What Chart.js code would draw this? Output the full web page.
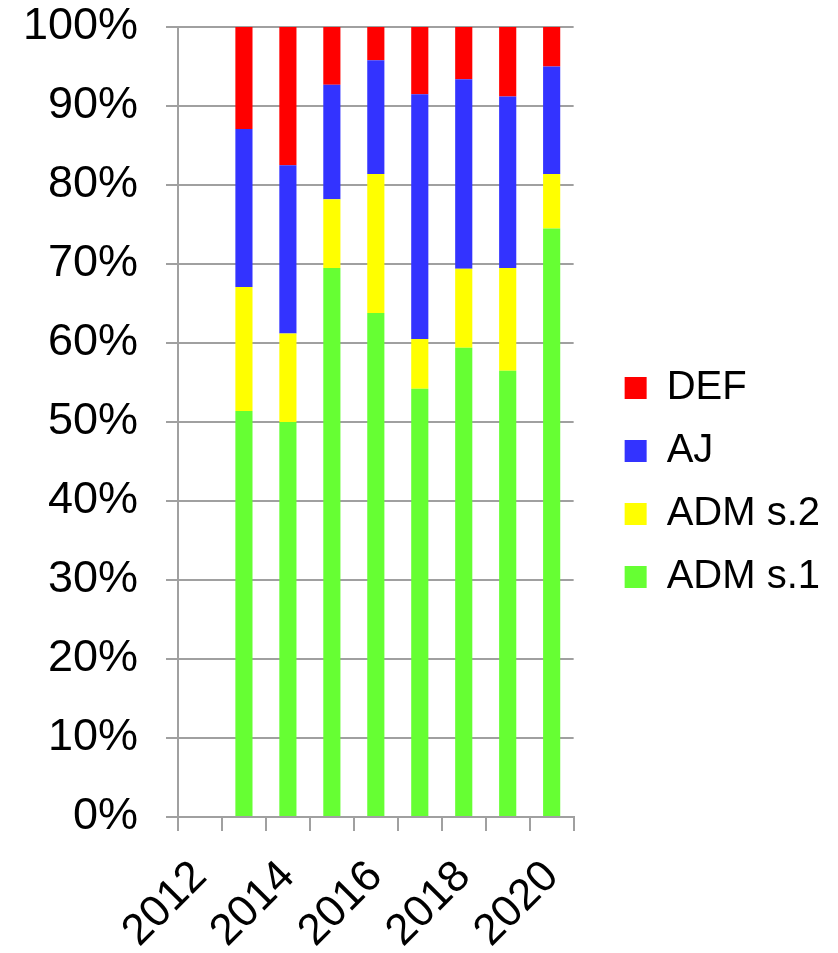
<!DOCTYPE html>
<html>
<head>
<meta charset="utf-8">
<script src="https://cdn.jsdelivr.net/npm/chart.js@4.4.1/dist/chart.umd.min.js"></script>
<style>
  html, body { margin: 0; padding: 0; background: #fff; }
  canvas { display: block; }
</style>
</head>
<body>
<canvas id="chart-shares" width="838" height="953"></canvas>
<script>
// categories (2012 has no bar)
const years = ['2012', '2013', '2014', '2015', '2016', '2017', '2018', '2019', '2020'];

// shares in percent
const admS1 = [null, 51.4, 50.0, 69.5, 63.8, 54.2, 59.4, 56.5, 74.5];
const admS2 = [null, 15.7, 11.2, 8.7, 17.6, 6.3, 10.0, 13.0, 6.9];
const aj    = [null, 20.0, 21.3, 14.5, 14.4, 31.0, 24.0, 21.7, 13.6];
const def   = [null, 12.9, 17.5, 7.3, 4.2, 8.5, 6.6, 8.8, 5.0];

// only every other year gets a label
const shownYears = ['2012', '2014', '2016', '2018', '2020'];
const yTicks = [0, 10, 20, 30, 40, 50, 60, 70, 80, 90, 100];

const font = '"Liberation Sans", Arial, sans-serif';
const gridColor = '#a0a0a0';

function series(label, data, color) {
	return {
		label: label,
		data: data,
		backgroundColor: color,
		borderWidth: 0,
		barPercentage: 0.39,
		categoryPercentage: 1.0
	};
}

let ctx = document.getElementById('chart-shares');
let chart = new Chart(ctx, {
	type: 'bar',
	data: {
		labels: years,
		datasets: [
			series('ADM s.1', admS1, '#66ff33'),
			series('ADM s.2', admS2, '#ffff00'),
			series('AJ', aj, '#3333ff'),
			series('DEF', def, '#ff0000')
		]
	},
	options: {
		responsive: false,
		animation: false,
		layout: { padding: { top: 12, right: 8, bottom: 0, left: 0 } },
		plugins: {
			tooltip: { enabled: false },
			legend: {
				position: 'right',
				reverse: true,
				maxWidth: 300,
				labels: {
					boxWidth: 22,
					boxHeight: 22,
					padding: 23,
					color: '#000',
					font: { family: font, size: 40 }
				}
			}
		},
		scales: {
			x: {
				stacked: true,
				grid: {
					offset: true,
					drawOnChartArea: false,
					drawTicks: true,
					tickLength: 14,
					color: gridColor,
					lineWidth: 2
				},
				border: { color: gridColor, width: 2 },
				ticks: {
					autoSkip: false,
					minRotation: 45,
					maxRotation: 45,
					padding: 20,
					color: '#000',
					font: { family: font, size: 44 },
					callback: function(value, index) {
						let year = years[index];
						return shownYears.includes(year) ? year : '';
					}
				},
				afterFit: function(scale) {
					scale.height = 136;
					scale.paddingLeft = 0;
					scale.paddingRight = 0;
				}
			},
			y: {
				stacked: true,
				min: 0,
				max: 100,
				grid: {
					color: gridColor,
					lineWidth: 2,
					tickLength: 12
				},
				border: { color: gridColor, width: 2 },
				afterBuildTicks: function(scale) {
					scale.ticks = yTicks.map(v => ({ value: v }));
				},
				ticks: {
					padding: 28,
					color: '#000',
					font: { family: font, size: 45 },
					callback: function(value) { return value + '%'; }
				},
				afterFit: function(scale) {
					scale.width = 178;
					scale.paddingTop = 27;
					scale.paddingBottom = 0;
				}
			},
			// empty spacer between plot and legend
			gap: {
				type: 'linear',
				position: 'right',
				display: true,
				grid: { display: false },
				border: { display: false },
				ticks: { display: false },
				afterFit: function(scale) { scale.width = 28; }
			}
		}
	}
});
</script>
</body>
</html>
